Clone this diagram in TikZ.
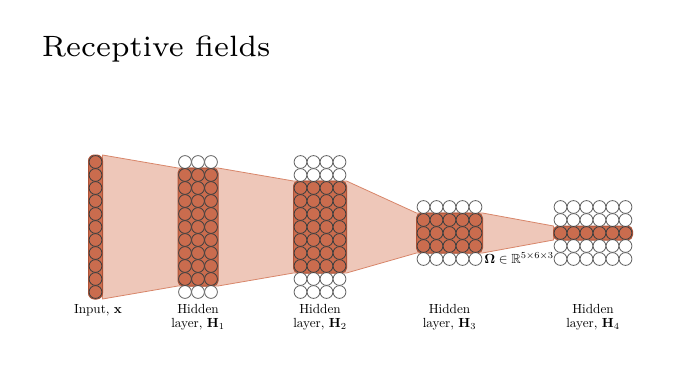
\documentclass[tikz,border=0pt]{standalone}
\usepackage{amsmath,amssymb}
\usepackage{tikz}
\usepackage{xcolor}
\usetikzlibrary{positioning, calc}
\definecolor{fieldfill}{RGB}{238,199,185}
\definecolor{fieldline}{RGB}{216,134,106}
\definecolor{unitfill}{RGB}{202,108,78}
\definecolor{unitline}{RGB}{172,82,55}
\tikzstyle{unit} = [draw=black!75, fill=unitfill, line width=0.4pt]
\tikzstyle{idle} = [draw=black!60, fill=white, line width=0.4pt]
\tikzstyle{block} = [draw=unitline, fill=unitfill, rounded corners=2.5pt, line width=0.5pt]
\tikzstyle{layertext} = [align=center, inner sep=0pt, anchor=north, font=\fontsize{10}{11}\selectfont, scale=0.66, transform shape]

\begin{document}
\begin{tikzpicture}[x=0.5pt, y=-0.5pt]
    % Page frame
    \useasboundingbox[fill=white] (0,0) rectangle (696,391);
    \node (title) [anchor=base west, inner sep=0pt, font=\fontsize{7}{8}\selectfont, scale=2.1, transform shape] at (41,56) {Receptive fields};

    % Corners of the receptive field blocks
    \coordinate (in-nw) at (88.5,155);  \coordinate (in-se) at (102.5,299);
    \coordinate (h1-nw) at (178,168);   \coordinate (h1-se) at (218,286);
    \coordinate (h2-nw) at (293.5,181); \coordinate (h2-se) at (346.5,273);
    \coordinate (h3-nw) at (416.5,213); \coordinate (h3-se) at (482.5,253);
    \coordinate (h4-nw) at (553.5,226); \coordinate (h4-se) at (632.5,240);

    % Receptive field band
    \draw[fill=fieldfill, draw=fieldline, line width=0.4pt]
        (in-se |- in-nw) -- (h1-nw) -- (h1-se |- h1-nw) -- (h2-nw) -- (h2-se |- h2-nw)
        -- (h3-nw) -- (h3-se |- h3-nw) -- (h4-nw) -- (h4-nw |- h4-se)
        -- (h3-se) -- (h3-nw |- h3-se) -- (h2-se) -- (h2-nw |- h2-se)
        -- (h1-se) -- (h1-nw |- h1-se) -- (in-se) -- cycle;

    % Filled blocks
    \draw[block, rounded corners=3pt] (in-nw) rectangle (in-se);
    \draw[block] (h1-nw) rectangle (h1-se);
    \draw[block] (h2-nw) rectangle (h2-se);
    \draw[block] (h3-nw) rectangle (h3-se);
    \draw[block] (h4-nw) rectangle (h4-se);

    % Input layer
    \foreach \r in {0,...,10} \draw[unit] (95.5,162+13*\r) circle (3.2pt);

    % Hidden layer 1
    \foreach \c in {0,1,2} {
        \foreach \r in {0,10} \draw[idle] (185+13*\c,162+13*\r) circle (3.2pt);
        \foreach \r in {1,...,9} \draw[unit] (185+13*\c,162+13*\r) circle (3.2pt);
    }

    % Hidden layer 2
    \foreach \c in {0,...,3} {
        \foreach \r in {0,1,9,10} \draw[idle] (300.5+13*\c,162+13*\r) circle (3.2pt);
        \foreach \r in {2,...,8} \draw[unit] (300.5+13*\c,162+13*\r) circle (3.2pt);
    }

    % Hidden layer 3
    \foreach \c in {0,...,4} {
        \foreach \r in {0,4} \draw[idle] (423.5+13*\c,207+13*\r) circle (3.2pt);
        \foreach \r in {1,2,3} \draw[unit] (423.5+13*\c,207+13*\r) circle (3.2pt);
    }

    % Hidden layer 4
    \foreach \c in {0,...,5} {
        \foreach \r in {0,1,3,4} \draw[idle] (560.5+13*\c,207+13*\r) circle (3.2pt);
        \draw[unit] (560.5+13*\c,233) circle (3.2pt);
    }

    % Kernel size
    \node (omega) [anchor=base west, inner sep=0pt, font=\fontsize{10}{11}\selectfont, scale=0.66, transform shape] at (484,263) {$\mathbf{\Omega}\in\mathbb{R}^{5\times6\times3}$};

    % Layer names
    \node (in-txt) [layertext] at (98,304) {Input, $\mathbf{x}$};
    \node (h1-txt) [layertext] at (198,304) {Hidden\\layer, $\mathbf{H}_1$};
    \node (h2-txt) [layertext] at (320,304) {Hidden\\layer, $\mathbf{H}_2$};
    \node (h3-txt) [layertext] at (449.5,304) {Hidden\\layer, $\mathbf{H}_3$};
    \node (h4-txt) [layertext] at (593,304) {Hidden\\layer, $\mathbf{H}_4$};
\end{tikzpicture}
\end{document}
